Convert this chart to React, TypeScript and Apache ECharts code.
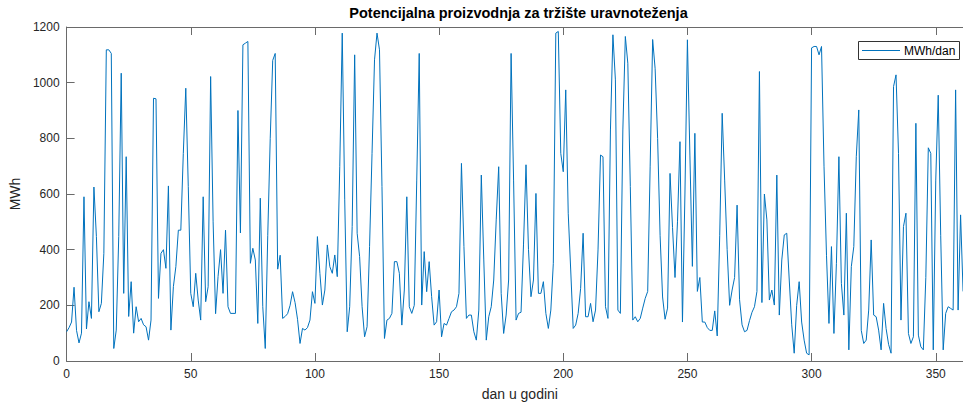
import React, { useEffect, useRef } from "react";
import * as echarts from "echarts";

// Daily values (MWh), day 0 onward
const part1 = [105, 120, 140, 265, 110, 65, 100, 590, 115, 213, 153, 625, 447, 177, 207, 387, 1118, 1118, 1105, 45, 111, 447, 1034, 243, 734, 160, 285, 100, 195, 141, 153, 130, 123, 75, 147, 944, 942, 225, 387, 400, 333, 629, 111, 267, 339, 470, 470];
const part2 = [746, 980, 627, 243, 195, 315, 219, 147, 590, 213, 267, 1022, 500, 170, 304, 400, 243, 470, 195, 171, 171, 171, 900, 460, 1136, 1142, 1148, 351, 405, 363, 135, 585, 195, 45, 450, 800, 1080, 1105, 330, 380, 153, 160, 170, 200, 249, 210];
const part3 = [150, 63, 117, 111, 120, 147, 249, 207, 447, 315, 201, 255, 417, 339, 315, 381, 303, 698, 1178, 579, 105, 195, 483, 1100, 459, 375, 195, 87, 123, 411, 746, 1082, 1178, 1118, 627, 81, 147, 153, 171, 357, 357, 315, 129, 255, 590, 195, 171];
const part4 = [200, 650, 1105, 201, 393, 249, 357, 231, 129, 141, 255, 87, 135, 129, 153, 177, 183, 195, 243, 710, 411, 153, 165, 165, 105, 75, 183, 668, 363, 75, 159, 195, 291, 507, 698, 243, 99, 165, 291, 1105, 650, 147, 171, 175, 420];
const part5 = [705, 400, 231, 291, 602, 243, 243, 285, 171, 117, 183, 351, 1178, 1184, 746, 680, 974, 531, 327, 117, 129, 171, 261, 459, 159, 159, 207, 141, 183, 399, 740, 734, 195, 153, 830, 1172, 1010, 183, 171, 830, 1166, 1070, 627, 147, 159, 141, 153];
const part6 = [190, 225, 250, 700, 1155, 1050, 800, 450, 230, 150, 190, 674, 480, 300, 500, 788, 140, 600, 1154, 740, 340, 818, 250, 300, 140, 140, 120, 110, 110, 180, 90, 450, 890, 650, 400, 200, 255, 300, 560, 220, 130, 105, 110, 145, 175, 195, 250];
const part7 = [1040, 210, 600, 507, 219, 255, 201, 668, 165, 363, 453, 459, 291, 130, 28, 200, 285, 140, 75, 28, 22, 1125, 1130, 1130, 1100, 1130, 700, 380, 135, 411, 99, 351, 734, 279, 165, 531, 40, 339, 411, 734, 902, 110, 63, 75, 183, 435, 165, 159, 111, 40, 207, 117, 60, 28, 986, 1028, 746, 147, 483, 531, 99, 63, 87, 854, 93, 51, 40, 300, 766, 746, 40, 650, 955, 450, 40, 171, 195, 189, 183, 974, 183, 525, 250];

const values = [...part1, ...part2, ...part3, ...part4, ...part5, ...part6, ...part7];

const xTicks = [0, 50, 100, 150, 200, 250, 300, 350];
const yTicks = [0, 200, 400, 600, 800, 1000, 1200];
const titleText = "Potencijalna proizvodnja za tržište uravnoteženja";
const xName = "dan u godini";
const yName = "MWh";
const seriesName = "MWh/dan";

export default function App() {
  const ref = useRef<HTMLDivElement>(null);

  useEffect(() => {
    const el = ref.current;
    if (!el) return;
    const chart = echarts.init(el, null, { renderer: "svg" });
    const font = '"Liberation Sans", Arial, Helvetica, sans-serif';
    const axisColor = "#6a6a6a";
    const labelColor = "#262626";
    const data = values.map((v, i) => [i, v]);
    const xMax = 365;
    const yMax = yTicks[yTicks.length - 1];

    const baseX = {
      type: "value",
      min: xTicks[0],
      max: xMax,
      interval: 50,
      splitLine: { show: false },
      axisLine: { show: true, onZero: false, lineStyle: { color: axisColor, width: 1 } },
      axisTick: { show: true, inside: true, length: 8, lineStyle: { color: axisColor } },
    };
    const baseY = {
      type: "value",
      min: yTicks[0],
      max: yMax,
      interval: 200,
      splitLine: { show: false },
      axisLine: { show: true, onZero: false, lineStyle: { color: axisColor, width: 1 } },
      axisTick: { show: true, inside: true, length: 8, lineStyle: { color: axisColor } },
    };

    chart.setOption({
      animation: false,
      backgroundColor: "#ffffff",
      grid: { left: 64, right: 7, top: 27, bottom: 45 },
      xAxis: [
        {
          ...baseX,
          position: "bottom",
          name: xName,
          nameLocation: "middle",
          nameGap: 26,
          nameTextStyle: { color: labelColor, fontSize: 14, fontFamily: font },
          axisLabel: {
            color: labelColor,
            fontSize: 12,
            fontFamily: font,
            margin: 7,
            formatter: (v: number) => (xTicks.includes(v) ? String(v) : ""),
          },
        },
        { ...baseX, position: "top", axisLabel: { show: false } },
      ],
      yAxis: [
        {
          ...baseY,
          position: "left",
          name: yName,
          nameLocation: "middle",
          nameGap: 40,
          nameRotate: 90,
          nameTextStyle: { color: labelColor, fontSize: 14, fontFamily: font },
          axisLabel: {
            color: labelColor,
            fontSize: 12,
            fontFamily: font,
            margin: 7,
            formatter: (v: number) => String(v),
          },
        },
        { ...baseY, position: "right", axisLabel: { show: false } },
      ],
      series: [
        {
          type: "line",
          name: seriesName,
          data,
          xAxisIndex: 0,
          yAxisIndex: 0,
          symbol: "none",
          showSymbol: false,
          lineStyle: { color: "#0072BD", width: 1 },
          itemStyle: { color: "#0072BD" },
          silent: true,
        },
      ],
      graphic: [
        {
          type: "text",
          x: 518.5,
          y: 13,
          style: {
            text: titleText,
            font: `bold 14.5px ${font}`,
            fill: "#000000",
            textAlign: "center",
            textVerticalAlign: "middle",
          },
        },
        {
          type: "rect",
          shape: { x: 858.5, y: 41.5, width: 101, height: 18 },
          style: { fill: "#ffffff", stroke: "#333333", lineWidth: 1 },
          z: 100,
        },
        {
          type: "line",
          shape: { x1: 862, y1: 50.5, x2: 900, y2: 50.5 },
          style: { stroke: "#0072BD", lineWidth: 1 },
          z: 101,
        },
        {
          type: "text",
          x: 904,
          y: 51,
          style: {
            text: seriesName,
            font: `12px ${font}`,
            fill: "#000000",
            textAlign: "left",
            textVerticalAlign: "middle",
          },
          z: 101,
        },
      ],
    });

    return () => chart.dispose();
  }, []);

  return (
    <div
      style={{
        position: "fixed",
        left: 0,
        top: 0,
        width: 963,
        height: 406,
        overflow: "hidden",
        background: "#ffffff",
      }}
    >
      <div ref={ref} style={{ width: 980, height: 406 }} />
    </div>
  );
}
